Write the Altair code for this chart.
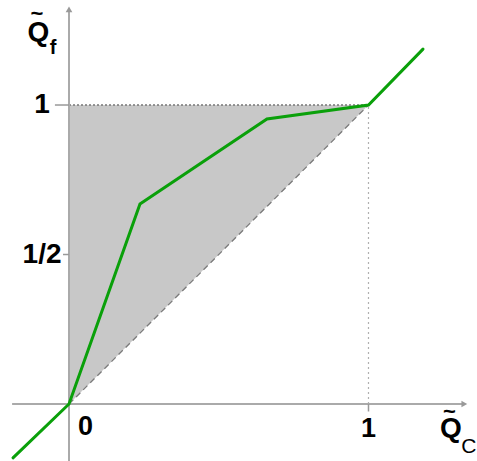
import altair as alt
import pandas as pd

# piecewise-linear response curve
curve_x = [-0.187, 0.0, 0.237, 0.661, 1.0, 1.182]
curve_y = [-0.18, 0.0, 0.669, 0.953, 1.0, 1.187]

# admissible region: between the diagonal and the line y = 1
region_x = [0.0, 1.0]
region_lo = [0.0, 1.0]
region_hi = [1.0, 1.0]

# tick labels
ylab_vals = [1.0, 0.5]
ylab_text = ["1", "1/2"]
xlab_vals = [0.0, 1.0]
xlab_text = ["0", "1"]

X = alt.Scale(domain=[-0.2304, 1.3623], nice=False, zero=False)
Y = alt.Scale(domain=[-0.1906, 1.3512], nice=False, zero=False)

def xe(field, **kw):
    return alt.X(field, type="quantitative", scale=X, axis=None, **kw)

def ye(field, **kw):
    return alt.Y(field, type="quantitative", scale=Y, axis=None, **kw)

def px(v):
    return alt.datum(v, scale=X, axis=None)

def py(v):
    return alt.datum(v, scale=Y, axis=None)

one = pd.DataFrame({"d": [0]})

region = alt.Chart(pd.DataFrame({"x": region_x, "lo": region_lo, "hi": region_hi})).mark_area(
    color="#c8c8c8", opacity=1
).encode(x=xe("x"), y=ye("lo"), y2="hi")

diag = alt.Chart(pd.DataFrame({"x": [0.0, 1.0], "y": [0.0, 1.0]})).mark_line(
    color="#7a7a7a", strokeDash=[6, 4], strokeWidth=1.3
).encode(x=xe("x"), y=ye("y"))

top = alt.Chart(one).mark_rule(color="#777777", strokeDash=[2, 2], strokeWidth=1.3).encode(
    x=px(0.0), x2=alt.datum(1.0), y=py(1.0)
)

vert = alt.Chart(one).mark_rule(color="#b0b0b0", strokeDash=[2, 3], strokeWidth=1.2).encode(
    x=px(1.0), y=py(0.0), y2=alt.datum(1.0)
)

xaxis = alt.Chart(one).mark_rule(color="#aaaaaa", strokeWidth=2).encode(
    x=px(-0.19), x2=alt.datum(1.315), y=py(0.0)
)
yaxis = alt.Chart(one).mark_rule(color="#aaaaaa", strokeWidth=2).encode(
    x=px(0.0), y=py(-0.2), y2=alt.datum(1.315)
)

xarrow = alt.Chart(one).mark_point(shape="triangle-right", filled=True, color="#999999", size=45, opacity=1).encode(
    x=px(1.32), y=py(0.0)
)
yarrow = alt.Chart(one).mark_point(shape="triangle-up", filled=True, color="#999999", size=45, opacity=1).encode(
    x=px(0.0), y=py(1.32)
)

# small ticks
ytick1 = alt.Chart(one).mark_rule(color="#999999", strokeWidth=1.5).encode(
    x=px(-0.047), x2=alt.datum(0.0), y=py(1.0)
)
ytick2 = alt.Chart(one).mark_rule(color="#999999", strokeWidth=1.5).encode(
    x=px(-0.02), x2=alt.datum(0.0), y=py(0.5)
)
xtick1 = alt.Chart(one).mark_rule(color="#999999", strokeWidth=1.5).encode(
    x=px(1.0), y=py(0.0), y2=alt.datum(-0.025)
)

curve = alt.Chart(pd.DataFrame({"x": curve_x, "y": curve_y, "o": list(range(len(curve_x)))})).mark_line(
    color="#0aa00a", strokeWidth=3, strokeCap="round", strokeJoin="miter"
).encode(x=xe("x"), y=ye("y"), order="o:Q")

font = "Liberation Sans"

ylabels = alt.Chart(pd.DataFrame({"v": ylab_vals, "t": ylab_text})).mark_text(
    font=font, fontWeight="bold", fontSize=28, align="center", baseline="middle", color="black"
).encode(x=px(-0.09), y=ye("v"), text="t:N")

x0label = alt.Chart(one).mark_text(font=font, fontWeight="bold", fontSize=27, color="black").encode(
    x=px(0.055), y=py(-0.078), text=alt.value(xlab_text[0])
)
x1label = alt.Chart(one).mark_text(font=font, fontWeight="bold", fontSize=27, color="black").encode(
    x=px(xlab_vals[1]), y=py(-0.082), text=alt.value(xlab_text[1])
)

def axis_title(qx, qy, ty, sx, sy, sub, sub_size, sub_weight):
    q = alt.Chart(one).mark_text(font=font, fontWeight="bold", fontSize=28, color="black").encode(
        x=px(qx), y=py(qy), text=alt.value("Q")
    )
    tilde = alt.Chart(one).mark_text(font=font, fontWeight="bold", fontSize=22, color="black").encode(
        x=px(qx - 0.005), y=py(ty), text=alt.value("~")
    )
    s = alt.Chart(one).mark_text(font=font, fontSize=sub_size, fontWeight=sub_weight, color="black",
                                 align="left").encode(
        x=px(sx), y=py(sy), text=alt.value(sub)
    )
    return q + tilde + s

tf = axis_title(-0.102, 1.24, 1.305, -0.064, 1.19, "f", 20, "bold")
tc = axis_title(1.275, -0.085, -0.028, 1.31, -0.145, "C", 21, "normal")

chart = alt.layer(
    region, diag, top, vert, xaxis, yaxis, xarrow, yarrow, ytick1, ytick2, xtick1,
    curve, ylabels, x0label, x1label, tf, tc
).properties(
    width=477, height=461, padding=0, autosize=alt.AutoSizeParams(type="none")
).configure_view(stroke=None)

chart.save("out.html", embed_options={"renderer": "svg", "actions": False})
